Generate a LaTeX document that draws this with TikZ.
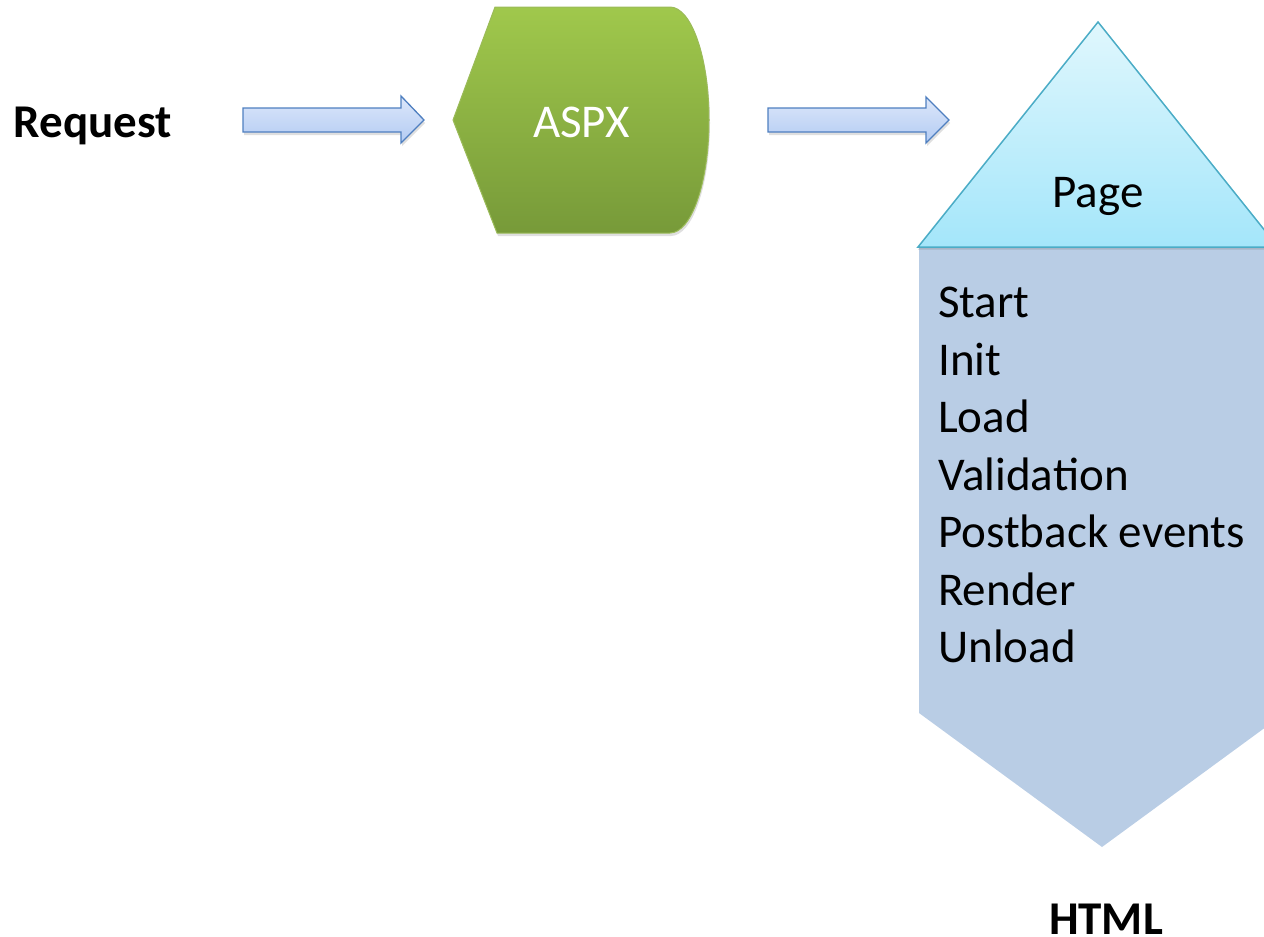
\documentclass[tikz,border=0pt]{standalone}
\usepackage{fontspec}
\setmainfont{Carlito}
\usetikzlibrary{shadows}
\definecolor{arrtop}{HTML}{DCE7FA}
\definecolor{arrbot}{HTML}{B3CBF3}
\definecolor{arrline}{HTML}{4F7FC0}
\definecolor{grtop}{HTML}{A0C84C}
\definecolor{grbot}{HTML}{779A39}
\definecolor{grline}{HTML}{9BBB59}
\definecolor{tritop}{HTML}{E0F7FD}
\definecolor{tribot}{HTML}{A4E6FA}
\definecolor{triline}{HTML}{4BACC6}
\definecolor{pentfill}{HTML}{B9CDE5}
\tikzset{
  blockarrow/.style={draw=arrline, line width=1.3pt, top color=arrtop, bottom color=arrbot,
    drop shadow={shadow xshift=1pt, shadow yshift=-3pt, opacity=0.25}},
  aspxshape/.style={draw=grline, line width=1pt, top color=grtop, bottom color=grbot,
    drop shadow={shadow xshift=1pt, shadow yshift=-3pt, opacity=0.25}},
  trishape/.style={draw=triline, line width=1.5pt, top color=tritop, bottom color=tribot,
    drop shadow={shadow xshift=0pt, shadow yshift=-2.5pt, opacity=0.3}},
  pentshape/.style={fill=pentfill},
  txt/.style={font=\fontsize{47}{57}\selectfont, inner sep=0pt},
  boldlabel/.style={txt, font=\fontsize{47}{57}\selectfont\bfseries, anchor=base},
  listitem/.style={txt, anchor=base west},
}
\begin{document}
\begin{tikzpicture}[x=1pt,y=1pt]
\useasboundingbox (0,0) rectangle (1264,-937);
\clip (0,0) rectangle (1264,-937);
% block arrows
\path[blockarrow] (243,-108) -- (401,-108) -- (401,-96) -- (424,-120) -- (401,-143) -- (401,-132) -- (243,-132) -- cycle;
\path[blockarrow] (768,-108) -- (926,-108) -- (926,-97) -- (949,-120) -- (926,-143) -- (926,-132) -- (768,-132) -- cycle;
% ASPX shape
\path[aspxshape] (495,-7) -- (670,-7) arc[start angle=90, end angle=-90, x radius=39, y radius=113] -- (497,-233) -- (453,-120) -- cycle;
% Page body
\path[pentshape] (919,-247) -- (1285,-247) -- (1285,-713) -- (1102,-847) -- (919,-713) -- cycle;
% Page triangle
\path[trishape] (1098,-22) -- (1278,-247) -- (918,-247) -- cycle;
% labels
\node[boldlabel] (req) at (93,-137) {Request};
\node[txt, text=white, anchor=base] (aspx) at (581.5,-137) {ASPX};
\node[txt, anchor=base] (page) at (1098,-207) {Page};
\node[boldlabel] (html) at (1106,-934) {HTML};
\node[listitem] (l1) at (938,-317) {Start};
\node[listitem] (l2) at (938,-375) {Init};
\node[listitem] (l3) at (938,-432) {Load};
\node[listitem] (l4) at (938,-490) {Validation};
\node[listitem] (l5) at (938,-547) {Postback events};
\node[listitem] (l6) at (938,-605) {Render};
\node[listitem] (l7) at (938,-662) {Unload};
\end{tikzpicture}
\end{document}
